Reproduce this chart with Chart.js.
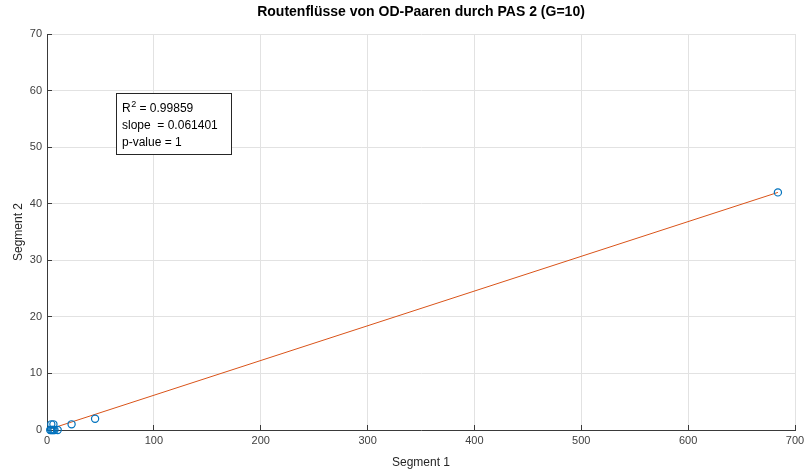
<!DOCTYPE html>
<html>
<head>
<meta charset="utf-8">
<script src="https://cdn.jsdelivr.net/npm/chart.js@4/dist/chart.umd.min.js"></script>
<style>
  html, body { margin: 0; padding: 0; background: #ffffff; }
  #wrap { width: 808px; height: 471px; }
</style>
</head>
<body>
<div id="wrap"><canvas id="c" width="808" height="471"></canvas></div>
<script>
// Route flows per OD pair: segment 1 vs segment 2
const segment1 = [3, 4, 5, 6, 7, 4, 6, 10, 23, 45, 684];
const segment2 = [0, 0, 0, 0, 0, 1, 1, 0, 1, 2, 42];

// Linear regression summary
const fitSlope = 0.061401;
const fitIntercept = 0.0;
const fitR2 = '0.99859';
const fitSlopeText = '0.061401';
const fitP = '1';

// Axis ranges / tick spacing
const xRange = [0, 700];
const yRange = [0, 70];
const xStep = 100;
const yStep = 10;

const titleText = 'Routenflüsse von OD-Paaren durch PAS 2 (G=10)';
const xLabel = 'Segment 1';
const yLabel = 'Segment 2';

const points = segment1.map((x, i) => ({ x: x, y: segment2[i] }));
const xMin = Math.min(...segment1);
const xMax = Math.max(...segment1);
const fitLine = [
  { x: xMin, y: fitSlope * xMin + fitIntercept },
  { x: xMax, y: fitSlope * xMax + fitIntercept }
];

const FONT = '"Liberation Sans", Arial, Helvetica, sans-serif';
const AXIS_COLOR = '#3a3a3a';
const GRID_COLOR = '#e2e2e2';

// Title centred over the plot area (not the whole canvas)
const plotTitle = {
  id: 'plotTitle',
  afterDraw(chart) {
    const { ctx, chartArea } = chart;
    ctx.save();
    ctx.font = 'bold 14px ' + FONT;
    ctx.fillStyle = '#000000';
    ctx.textAlign = 'center';
    ctx.textBaseline = 'middle';
    ctx.fillText(titleText, (chartArea.left + chartArea.right) / 2, 12);
    ctx.restore();
  }
};

// Text box with the fit statistics, anchored to the plot area
const statsBox = {
  id: 'statsBox',
  afterDraw(chart) {
    const { ctx, chartArea } = chart;
    const left = chartArea.left + 69;
    const top = chartArea.top + 59;
    const w = 115, h = 61;
    ctx.save();
    ctx.fillStyle = '#ffffff';
    ctx.fillRect(left, top, w, h);
    ctx.strokeStyle = '#262626';
    ctx.lineWidth = 1;
    ctx.strokeRect(Math.round(left) + 0.5, Math.round(top) + 0.5, w, h);
    ctx.fillStyle = '#000000';
    ctx.textBaseline = 'alphabetic';
    ctx.textAlign = 'left';
    const tx = left + 6;
    // R² line with superscript
    ctx.font = '12px ' + FONT;
    ctx.fillText('R', tx, top + 19);
    let x = tx + ctx.measureText('R').width;
    ctx.font = '9px ' + FONT;
    ctx.fillText('2', x + 0.5, top + 14);
    x += ctx.measureText('2').width + 0.5;
    ctx.font = '12px ' + FONT;
    ctx.fillText(' = ' + fitR2, x, top + 19);
    ctx.fillText('slope  = ' + fitSlopeText, tx, top + 36);
    ctx.fillText('p-value = ' + fitP, tx, top + 53);
    ctx.restore();
  }
};

new Chart(document.getElementById('c'), {
  type: 'scatter',
  data: {
    datasets: [
      {
        label: 'Fit',
        type: 'line',
        data: fitLine,
        borderColor: '#D95319',
        borderWidth: 1,
        pointRadius: 0,
        fill: false,
        order: 2
      },
      {
        label: 'OD-Paare',
        data: points,
        pointStyle: 'circle',
        pointRadius: 3.6,
        pointBorderWidth: 1.2,
        borderColor: '#0072BD',
        backgroundColor: 'rgba(0,0,0,0)',
        clip: false,
        order: 1
      }
    ]
  },
  options: {
    responsive: false,
    animation: false,
    devicePixelRatio: 1,
    layout: { padding: { top: 34, right: 13, bottom: 0, left: 0 } },
    plugins: {
      legend: { display: false },
      tooltip: { enabled: false },
      title: { display: false }
    },
    scales: {
      x: {
        type: 'linear',
        min: xRange[0],
        max: xRange[1],
        afterFit(s) {
          s.height = 41;
          s.paddingLeft = 0;
          s.paddingRight = 10;
        },
        ticks: {
          stepSize: xStep,
          color: '#404040',
          font: { family: FONT, size: 11 },
          padding: 9,
          maxRotation: 0
        },
        grid: {
          color: GRID_COLOR,
          tickColor: AXIS_COLOR,
          tickLength: -5,
          drawTicks: true
        },
        border: { display: true, color: AXIS_COLOR, width: 1 },
        title: {
          display: true,
          text: xLabel,
          color: '#262626',
          font: { family: FONT, size: 12, lineHeight: 1.2 },
          padding: { top: 0, bottom: 1.5 }
        }
      },
      y: {
        type: 'linear',
        min: yRange[0],
        max: yRange[1],
        afterFit(s) {
          s.width = 47;
          s.paddingTop = 0;
          s.paddingBottom = 0;
        },
        ticks: {
          stepSize: yStep,
          color: '#404040',
          font: { family: FONT, size: 11 },
          padding: 10
        },
        grid: {
          color: GRID_COLOR,
          tickColor: AXIS_COLOR,
          tickLength: -5,
          drawTicks: true
        },
        border: { display: true, color: AXIS_COLOR, width: 1 },
        title: {
          display: true,
          text: yLabel,
          color: '#262626',
          font: { family: FONT, size: 12, lineHeight: 1.2 },
          padding: { top: 11, bottom: 0 }
        }
      }
    }
  },
  plugins: [plotTitle, statsBox]
});
</script>
</body>
</html>
